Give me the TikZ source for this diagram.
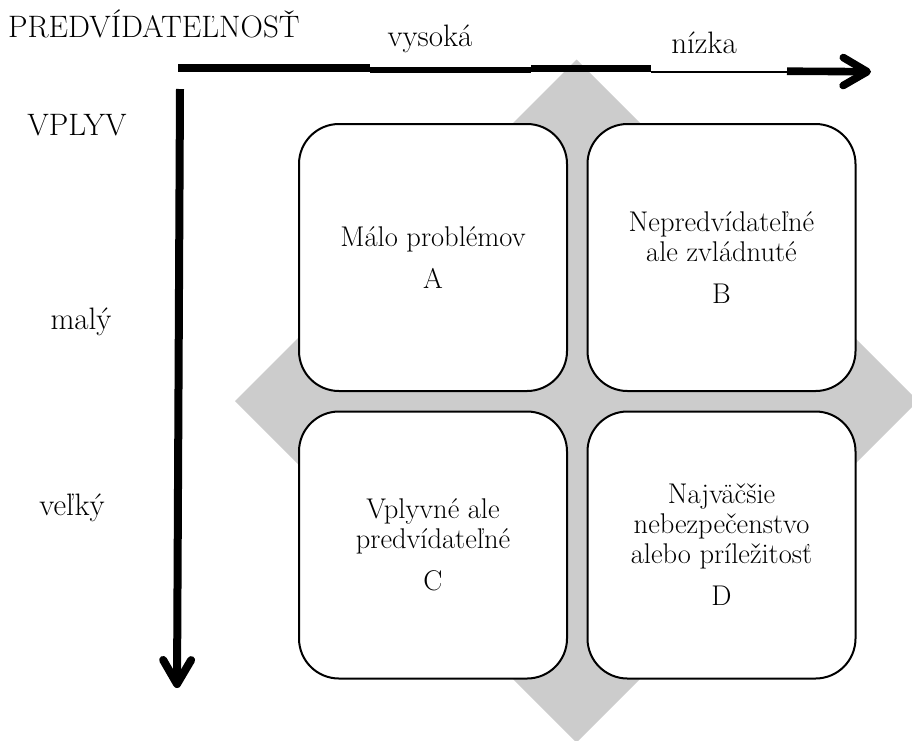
\documentclass[tikz,border=0pt]{standalone}
\usepackage{fontspec}
\usetikzlibrary{arrows.meta}
\definecolor{diamondgray}{HTML}{CCCCCC}
\tikzset{
  quad/.style={draw, line width=2pt, fill=white, rounded corners=40pt,
    minimum width=268pt, minimum height=267pt, inner sep=0pt, align=center,
    font=\fontsize{28.5}{30}\selectfont},
  lbl/.style={inner sep=0pt, font=\fontsize{31}{32}\selectfont},
  axisline/.style={line width=8pt,
    -{Straight Barb[length=24pt, width=28pt, round]}},
}
\begin{document}
\begin{tikzpicture}[x=1pt, y=-1pt]
  \useasboundingbox (0,0) rectangle (912,740);
  \begin{scope}
    \clip (0,0) rectangle (912,740);
    % grey diamond behind the four fields
    \fill[diamondgray] (576.5,59.5) -- (918,401) -- (576.5,742.5) -- (235,401) -- cycle;
  \end{scope}

  % four fields
  \node[quad] (A) at (433,257.5) {Málo problémov\\[12pt]A};
  \node[quad] (B) at (721.5,257.5) {Nepredvídateľné\\ale zvládnuté\\[12pt]B};
  \node[quad] (C) at (433,545) {Vplyvné ale\\predvídateľné\\[12pt]C};
  \node[quad] (D) at (721.5,545) {Najväčšie\\nebezpečenstvo\\alebo príležitosť\\[12pt]D};

  % horizontal axis (predictability), built from strokes of uneven weight
  \coordinate (h0) at (178,68);
  \coordinate (h1) at (787,71.2);
  \coordinate (hend) at (871,71.7);
  \fill (178,64.3) rectangle (370,72.3);
  \fill (370,67.3) rectangle (531,72.5);
  \fill (531,65.3) rectangle (651,72.3);
  \fill (651,70.7) rectangle (788,73.3);
  \draw[axisline, line width=7.6pt] (h1) -- (hend);

  % vertical axis (impact)
  \coordinate (v0) at (180,89);
  \coordinate (vend) at (177,688);
  \draw[axisline] (v0) -- (vend);

  % axis labels
  \node[lbl, anchor=base west] (pred) at (8,37) {PREDVÍDATEĽNOSŤ};
  \node[lbl, anchor=base] (vys) at (430,46) {vysoká};
  \node[lbl, anchor=base] (niz) at (704,53) {nízka};
  \node[lbl, anchor=base] (vpl) at (77,135) {VPLYV};
  \node[lbl, anchor=base] (mal) at (81,329) {malý};
  \node[lbl, anchor=base] (vel) at (72,515) {veľký};
\end{tikzpicture}
\end{document}
